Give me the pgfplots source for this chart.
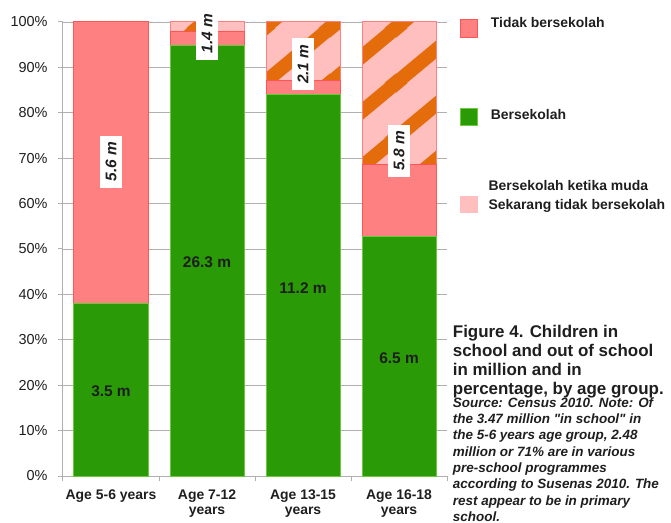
\documentclass[border=0pt]{standalone}
\usepackage{fontspec}
\setmainfont{Liberation Sans}[Ligatures=TeXOff]
\usepackage{pgfplots}
\pgfplotsset{compat=1.18}
\usetikzlibrary{patterns}
\definecolor{grn}{HTML}{2A9A06}
\definecolor{grnedge}{HTML}{6CC93A}
\definecolor{redf}{HTML}{FF8080}
\definecolor{rededge}{HTML}{FF5555}
\definecolor{pinkf}{HTML}{FFBFBF}
\definecolor{orng}{HTML}{E46C0A}
\definecolor{gridc}{HTML}{B0B0B0}
\definecolor{txt}{HTML}{1E1E1E}
\pgfdeclarepatterninherentlycolored{pinkstripes}{\pgfpoint{0bp}{0bp}}{\pgfpoint{66bp}{55bp}}{\pgfpoint{66bp}{55bp}}{%
  \pgfsetfillcolor{pinkf}%
  \pgfpathrectangle{\pgfpoint{-1bp}{-1bp}}{\pgfpoint{68bp}{57bp}}%
  \pgfusepath{fill}%
  \pgfsetstrokecolor{orng}%
  \pgfsetlinewidth{14bp}%
  \pgfpathmoveto{\pgfpoint{-66bp}{-55bp}}\pgfpathlineto{\pgfpoint{132bp}{110bp}}%
  \pgfpathmoveto{\pgfpoint{-132bp}{-55bp}}\pgfpathlineto{\pgfpoint{66bp}{110bp}}%
  \pgfpathmoveto{\pgfpoint{-66bp}{-110bp}}\pgfpathlineto{\pgfpoint{132bp}{55bp}}%
  \pgfusepath{stroke}%
}
\begin{document}
\begin{tikzpicture}
\path[use as bounding box] (0,0) rectangle (671bp,523bp);
\begin{axis}[
  at={(63bp,47bp)}, anchor=south west,
  scale only axis, width=384bp, height=454bp,
  xmin=-0.5, xmax=3.5, ymin=0, ymax=100,
  ybar stacked, bar width=74bp,
  axis x line*=bottom, axis y line*=left,
  axis line style={gridc, line width=1bp},
  ymajorgrids, grid style={gridc, line width=0.8bp},
  tick align=outside, major tick length=5bp,
  tick style={gridc, line width=1bp},
  ytick={0,10,...,100},
  yticklabels={0\%,10\%,20\%,30\%,40\%,50\%,60\%,70\%,80\%,90\%,100\%},
  yticklabel style={font=\fontsize{14.5}{16}\selectfont, text=txt, xshift=-7bp},
  xtick={-0.5,0.5,1.5,2.5,3.5},
  xticklabels={Age 5-6 years,{Age 7-12\\years},{Age 13-15\\years},{Age 16-18\\years},{}},
  xticklabel style={font=\fontsize{14}{15}\selectfont\bfseries, text=txt, align=center, xshift=48bp, yshift=-5bp},
  clip=false,
]
\addplot[fill=grn, draw=grnedge, line width=1bp] coordinates {(0,38.0) (1,94.9) (2,84.1) (3,52.7)};
\addplot[fill=redf, draw=rededge, line width=1bp] coordinates {(0,62.0) (1,3.0) (2,3.1) (3,16.0)};
\addplot[pattern=pinkstripes, draw=redf, line width=1bp]
  coordinates {(0,0) (1,2.1) (2,12.8) (3,31.3)};
\coordinate (g1) at (axis cs:0,18.6);
\coordinate (g2) at (axis cs:1,47.1);
\coordinate (g3) at (axis cs:2,41.4);
\coordinate (g4) at (axis cs:3,26.0);
\coordinate (r1) at (axis cs:0,69.2);
\coordinate (r2) at (axis cs:1,97.4);
\coordinate (r3) at (axis cs:2,90.7);
\coordinate (r4) at (axis cs:3,71.6);
\end{axis}
\begin{scope}[every node/.style={font=\fontsize{15.5}{16}\selectfont\bfseries, text=txt}]
\node at (g1) {3.5 m};
\node at (g2) {26.3 m};
\node at (g3) {11.2 m};
\node at (g4) {6.5 m};
\end{scope}
\begin{scope}[every node/.style={font=\fontsize{15.5}{16}\selectfont\bfseries\itshape, text=txt, fill=white, rotate=90, inner xsep=6bp, inner ysep=6bp}]
\node at (r1) {5.6 m};
\node at (r2) {1.4 m};
\node at (r3) {2.1 m};
\node at (r4) {5.8 m};
\end{scope}
% legend
\draw[fill=redf, draw=rededge, line width=1bp] (460bp,485.3bp) rectangle (477.7bp,503bp);
\draw[fill=grn, draw=grnedge, line width=1bp] (460bp,397bp) rectangle (477.7bp,414bp);
\fill[pinkf] (460bp,310bp) rectangle (477.7bp,327bp);
\begin{scope}[every node/.style={font=\fontsize{14}{15}\selectfont\bfseries, text=txt, anchor=base west, inner sep=0pt}]
\node at (490.7bp,495bp) {Tidak bersekolah};
\node at (490.7bp,403bp) {Bersekolah};
\node at (488.3bp,332.3bp) {Bersekolah ketika muda};
\node at (488.3bp,313.7bp) {Sekarang tidak bersekolah};
\end{scope}
% caption
\begin{scope}[every node/.style={font=\fontsize{17}{19}\selectfont\bfseries, text=txt, anchor=base west, inner sep=0pt}]
\node at (452.7bp,185.7bp) {Figure 4. Children in};
\node at (452.7bp,166.5bp) {school and out of school};
\node at (452.7bp,147.3bp) {in million and in};
\node at (452.7bp,128.1bp) {percentage, by age group.};
\end{scope}
\begin{scope}[every node/.style={font=\fontsize{13.5}{15}\selectfont\bfseries\itshape, text=txt, anchor=base west, inner sep=0pt}]
\node at (452.7bp,115.7bp) {Source: Census 2010. Note: Of};
\node at (452.7bp,99.4bp) {the 3.47 million "in school" in};
\node at (452.7bp,83.1bp) {the 5-6 years age group, 2.48};
\node at (452.7bp,66.8bp) {million or 71\% are in various};
\node at (452.7bp,50.5bp) {pre-school programmes};
\node at (452.7bp,34.2bp) {according to Susenas 2010. The};
\node at (452.7bp,17.9bp) {rest appear to be in primary};
\node at (452.7bp,1.6bp) {school.};
\end{scope}
\end{tikzpicture}
\end{document}
